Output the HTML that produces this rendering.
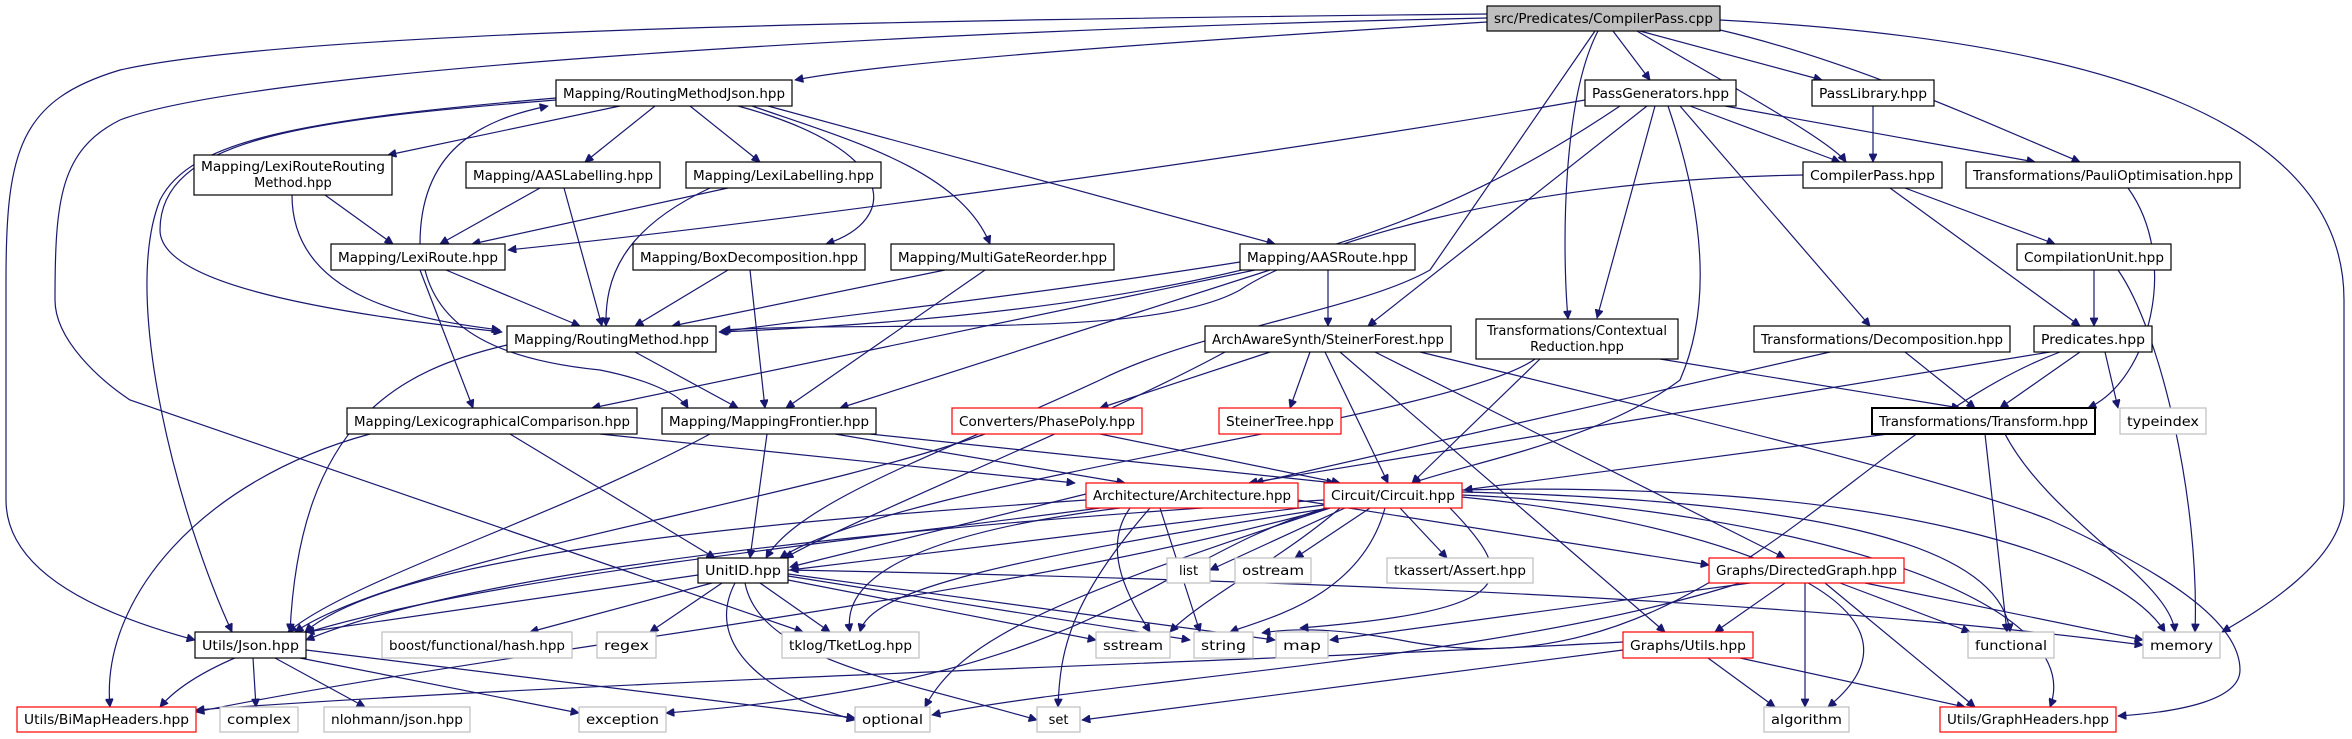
<!DOCTYPE html>
<html><head><meta charset="utf-8"><style>
html,body{margin:0;padding:0;background:#fff;}
svg{display:block;}
text{font-family:"DejaVu Sans","Liberation Sans",sans-serif;font-size:13px;fill:#000;}
.e{fill:none;stroke:#191970;stroke-width:1.2;marker-end:url(#a);}
.b{fill:#fff;stroke:#000;stroke-width:1.2;}
.r{fill:#fff;stroke:#f00;stroke-width:1.2;}
.g{fill:#fff;stroke:#bfbfbf;stroke-width:1.2;}
</style></head><body>
<svg width="2352" height="739" viewBox="0 0 2352 739" xmlns="http://www.w3.org/2000/svg">
<defs><marker id="a" viewBox="0 0 10 10" refX="10" refY="5" markerWidth="10" markerHeight="8" markerUnits="userSpaceOnUse" orient="auto"><path d="M0,0 L10,5 L0,10 z" fill="#191970" stroke="#191970"/></marker></defs>
<g>
<path class="e" d="M1487,22 C1200,40 900,60 795,80"/>
<path class="e" d="M1487,14 C900,20 300,30 120,70 C20,100 6,150 6,280 L6,500 C6,580 120,620 195,640"/>
<path class="e" d="M1487,18 C900,30 250,70 120,120 C60,150 55,200 55,300 C55,340 100,380 130,400 L803,632"/>
<path class="e" d="M1720,20 C2100,40 2344,120 2344,300 L2344,500 C2344,560 2260,610 2222,632"/>
<path class="e" d="M1613,31 L1650,80"/>
<path class="e" d="M1640,31 L1822,80"/>
<path class="e" d="M1637,31 C1720,80 1830,140 1846,162"/>
<path class="e" d="M1720,30 C1850,60 1980,120 2080,162"/>
<path class="e" d="M1598,31 C1562,100 1562,250 1568,319"/>
<path class="e" d="M1595,31 L1430,270 C1360,310 1200,330 1100,380 C950,450 800,500 766,558"/>
<path class="e" d="M1585,100 C1300,150 800,220 508,250"/>
<path class="e" d="M1620,106 C1450,220 1250,310 719,332"/>
<path class="e" d="M1647,106 L1368,326"/>
<path class="e" d="M1655,106 L1597,318"/>
<path class="e" d="M1668,106 C1700,200 1715,300 1680,380 C1600,440 1480,460 1412,483"/>
<path class="e" d="M1680,106 L1870,326"/>
<path class="e" d="M1690,106 L1840,162"/>
<path class="e" d="M1725,106 L2035,162"/>
<path class="e" d="M1873,106 L1873,162"/>
<path class="e" d="M1803,175 C1500,180 1300,250 1240,290 C1150,340 900,320 722,330"/>
<path class="e" d="M1905,188 L2055,244"/>
<path class="e" d="M1890,188 L2080,326"/>
<path class="e" d="M2128,188 C2180,260 2150,380 2088,408"/>
<path class="e" d="M2094,270 L2094,326"/>
<path class="e" d="M2118,270 C2160,330 2200,500 2195,632"/>
<path class="e" d="M2105,352 L2118,408"/>
<path class="e" d="M2080,352 L2000,408"/>
<path class="e" d="M2050,352 L1249,483"/>
<path class="e" d="M2060,352 C1850,430 1700,700 1400,640 C1320,625 1280,630 1262,633"/>
<path class="e" d="M1888,434 L1464,490"/>
<path class="e" d="M1985,434 L2007,632"/>
<path class="e" d="M2005,434 C2050,520 2170,580 2175,632"/>
<path class="e" d="M1905,352 L1975,408"/>
<path class="e" d="M1830,352 L1255,483"/>
<path class="e" d="M1660,359 L1960,408"/>
<path class="e" d="M1540,359 L1412,483"/>
<path class="e" d="M1535,359 C1450,420 900,480 780,558"/>
<path class="e" d="M1270,352 L1100,408"/>
<path class="e" d="M1310,352 L1290,408"/>
<path class="e" d="M1325,352 L1388,483"/>
<path class="e" d="M1225,352 C1100,420 850,520 785,558"/>
<path class="e" d="M1340,352 L1665,632"/>
<path class="e" d="M1375,352 L1785,558"/>
<path class="e" d="M1420,352 C1700,420 1950,480 2050,520 C2160,570 2240,620 2240,670 C2240,700 2180,712 2118,716"/>
<path class="e" d="M1328,270 L1328,326"/>
<path class="e" d="M1240,262 C1000,300 800,320 720,332"/>
<path class="e" d="M1270,270 L840,408"/>
<path class="e" d="M1255,270 L592,408"/>
<path class="e" d="M620,106 L388,155"/>
<path class="e" d="M655,106 L585,162"/>
<path class="e" d="M690,106 L760,162"/>
<path class="e" d="M738,106 C900,150 900,220 826,244"/>
<path class="e" d="M752,106 C850,140 960,170 990,244"/>
<path class="e" d="M768,106 L1275,244"/>
<path class="e" d="M556,100 C300,120 160,140 160,230 C160,280 300,310 502,332"/>
<path class="e" d="M556,98 C300,120 190,140 160,200 C120,300 180,520 232,632"/>
<path class="e" d="M420,244 C420,150 480,120 548,106"/>
<path class="e" d="M325,195 L393,244"/>
<path class="e" d="M292,195 C292,300 420,320 500,330"/>
<path class="e" d="M540,188 L440,244"/>
<path class="e" d="M564,188 L602,326"/>
<path class="e" d="M728,188 L472,244"/>
<path class="e" d="M710,188 C620,230 605,280 606,326"/>
<path class="e" d="M446,270 L580,326"/>
<path class="e" d="M420,270 L473,408"/>
<path class="e" d="M425,270 C440,330 500,360 600,370 C650,380 680,395 688,408"/>
<path class="e" d="M728,270 L635,326"/>
<path class="e" d="M750,270 L765,408"/>
<path class="e" d="M945,270 L672,326"/>
<path class="e" d="M985,270 L786,408"/>
<path class="e" d="M507,345 C400,370 300,420 290,632"/>
<path class="e" d="M635,352 L738,408"/>
<path class="e" d="M510,434 L715,558"/>
<path class="e" d="M370,434 C200,480 100,600 110,707"/>
<path class="e" d="M600,434 L1075,483"/>
<path class="e" d="M767,434 L750,558"/>
<path class="e" d="M835,434 L1125,483"/>
<path class="e" d="M870,434 L1335,483"/>
<path class="e" d="M710,434 C550,520 350,580 288,632"/>
<path class="e" d="M985,434 C800,500 400,560 295,632"/>
<path class="e" d="M1100,434 L1340,483"/>
<path class="e" d="M1086,494 L790,567"/>
<path class="e" d="M1086,500 C800,520 400,550 305,632"/>
<path class="e" d="M1100,508 C700,560 250,600 160,707"/>
<path class="e" d="M1120,508 C860,540 845,600 850,632"/>
<path class="e" d="M1160,508 L1200,632"/>
<path class="e" d="M1150,508 C1070,600 1060,650 1058,707"/>
<path class="e" d="M1130,508 C1100,550 1130,600 1150,632"/>
<path class="e" d="M1298,500 L1709,565"/>
<path class="e" d="M1324,505 L790,570"/>
<path class="e" d="M1324,500 C1000,520 500,560 306,640"/>
<path class="e" d="M1330,508 C1000,600 500,650 196,712"/>
<path class="e" d="M1330,508 C1000,560 870,590 860,632"/>
<path class="e" d="M1345,508 L1210,570"/>
<path class="e" d="M1370,508 L1295,558"/>
<path class="e" d="M1400,508 L1447,558"/>
<path class="e" d="M1385,508 C1360,600 1260,620 1230,632"/>
<path class="e" d="M1450,508 C1520,580 1520,610 1300,628"/>
<path class="e" d="M1340,508 C1280,560 1200,600 1170,632"/>
<path class="e" d="M1330,508 C1050,600 960,640 925,707"/>
<path class="e" d="M1326,508 C1150,560 1100,680 666,713"/>
<path class="e" d="M1462,497 C1700,520 1960,600 1828,707"/>
<path class="e" d="M1462,492 C1800,500 2000,540 2010,632"/>
<path class="e" d="M1462,490 C1900,480 2120,560 2165,632"/>
<path class="e" d="M1462,495 C1800,510 2090,600 2050,707"/>
<path class="e" d="M698,575 L306,632"/>
<path class="e" d="M712,583 L530,632"/>
<path class="e" d="M722,583 L650,632"/>
<path class="e" d="M760,583 L830,632"/>
<path class="e" d="M788,580 L1096,640"/>
<path class="e" d="M788,576 L1190,640"/>
<path class="e" d="M788,574 L1275,640"/>
<path class="e" d="M788,570 C1300,580 1800,600 2143,645"/>
<path class="e" d="M735,583 C700,650 780,700 855,720"/>
<path class="e" d="M745,583 C760,660 900,680 1037,720"/>
<path class="e" d="M253,658 L256,707"/>
<path class="e" d="M275,658 L365,707"/>
<path class="e" d="M300,658 L579,713"/>
<path class="e" d="M306,650 L855,718"/>
<path class="e" d="M1785,583 L1715,632"/>
<path class="e" d="M1805,583 L1805,707"/>
<path class="e" d="M1825,583 L1975,707"/>
<path class="e" d="M1840,583 L1970,632"/>
<path class="e" d="M1865,583 L2143,640"/>
<path class="e" d="M1750,583 L1330,640"/>
<path class="e" d="M1740,583 C1500,660 1100,680 932,715"/>
<path class="e" d="M1708,658 L1775,707"/>
<path class="e" d="M1740,658 L1965,707"/>
<path class="e" d="M1623,650 L1082,720"/>
<path class="e" d="M1623,642 C1300,660 600,680 196,710"/>
</g>
<g>
<rect x="1487" y="6" width="233" height="25" fill="#bfbfbf" stroke="#000" stroke-width="1.2"/><text x="1603.5" y="23" text-anchor="middle" textLength="219" lengthAdjust="spacingAndGlyphs">src/Predicates/CompilerPass.cpp</text>
<rect class="b" x="556" y="80" width="236" height="26"/><text x="674" y="98" text-anchor="middle" textLength="222" lengthAdjust="spacingAndGlyphs">Mapping/RoutingMethodJson.hpp</text>
<rect class="b" x="194" y="155" width="198" height="40"/><text x="293" y="171" text-anchor="middle" textLength="184" lengthAdjust="spacingAndGlyphs">Mapping/LexiRouteRouting</text><text x="293" y="187" text-anchor="middle">Method.hpp</text>
<rect class="b" x="466" y="162" width="194" height="26"/><text x="563" y="180" text-anchor="middle" textLength="180" lengthAdjust="spacingAndGlyphs">Mapping/AASLabelling.hpp</text>
<rect class="b" x="686" y="162" width="195" height="26"/><text x="783.5" y="180" text-anchor="middle" textLength="181" lengthAdjust="spacingAndGlyphs">Mapping/LexiLabelling.hpp</text>
<rect class="b" x="331" y="244" width="174" height="26"/><text x="418" y="262" text-anchor="middle" textLength="160" lengthAdjust="spacingAndGlyphs">Mapping/LexiRoute.hpp</text>
<rect class="b" x="633" y="244" width="232" height="26"/><text x="749" y="262" text-anchor="middle" textLength="218" lengthAdjust="spacingAndGlyphs">Mapping/BoxDecomposition.hpp</text>
<rect class="b" x="891" y="244" width="223" height="26"/><text x="1002.5" y="262" text-anchor="middle" textLength="209" lengthAdjust="spacingAndGlyphs">Mapping/MultiGateReorder.hpp</text>
<rect class="b" x="507" y="326" width="209" height="26"/><text x="611.5" y="344" text-anchor="middle" textLength="195" lengthAdjust="spacingAndGlyphs">Mapping/RoutingMethod.hpp</text>
<rect class="b" x="1585" y="80" width="151" height="26"/><text x="1660.5" y="98" text-anchor="middle" textLength="137" lengthAdjust="spacingAndGlyphs">PassGenerators.hpp</text>
<rect class="b" x="1812" y="80" width="122" height="26"/><text x="1873" y="98" text-anchor="middle" textLength="108" lengthAdjust="spacingAndGlyphs">PassLibrary.hpp</text>
<rect class="b" x="1803" y="162" width="139" height="26"/><text x="1872.5" y="180" text-anchor="middle" textLength="125" lengthAdjust="spacingAndGlyphs">CompilerPass.hpp</text>
<rect class="b" x="1966" y="162" width="274" height="26"/><text x="2103" y="180" text-anchor="middle" textLength="260" lengthAdjust="spacingAndGlyphs">Transformations/PauliOptimisation.hpp</text>
<rect class="b" x="1240" y="244" width="175" height="26"/><text x="1327.5" y="262" text-anchor="middle" textLength="161" lengthAdjust="spacingAndGlyphs">Mapping/AASRoute.hpp</text>
<rect class="b" x="2017" y="244" width="154" height="26"/><text x="2094" y="262" text-anchor="middle" textLength="140" lengthAdjust="spacingAndGlyphs">CompilationUnit.hpp</text>
<rect class="b" x="1205" y="326" width="246" height="26"/><text x="1328" y="344" text-anchor="middle" textLength="232" lengthAdjust="spacingAndGlyphs">ArchAwareSynth/SteinerForest.hpp</text>
<rect class="b" x="1476" y="319" width="202" height="40"/><text x="1577" y="335" text-anchor="middle" textLength="180" lengthAdjust="spacingAndGlyphs">Transformations/Contextual</text><text x="1577" y="351" text-anchor="middle">Reduction.hpp</text>
<rect class="b" x="1754" y="326" width="256" height="26"/><text x="1882" y="344" text-anchor="middle" textLength="242" lengthAdjust="spacingAndGlyphs">Transformations/Decomposition.hpp</text>
<rect class="b" x="2034" y="326" width="118" height="26"/><text x="2093" y="344" text-anchor="middle" textLength="104" lengthAdjust="spacingAndGlyphs">Predicates.hpp</text>
<rect class="b" x="347" y="408" width="290" height="26"/><text x="492" y="426" text-anchor="middle" textLength="276" lengthAdjust="spacingAndGlyphs">Mapping/LexicographicalComparison.hpp</text>
<rect class="b" x="662" y="408" width="214" height="26"/><text x="769" y="426" text-anchor="middle" textLength="200" lengthAdjust="spacingAndGlyphs">Mapping/MappingFrontier.hpp</text>
<rect class="r" x="952" y="408" width="190" height="26"/><text x="1047" y="426" text-anchor="middle" textLength="176" lengthAdjust="spacingAndGlyphs">Converters/PhasePoly.hpp</text>
<rect class="r" x="1219" y="408" width="122" height="26"/><text x="1280" y="426" text-anchor="middle" textLength="108" lengthAdjust="spacingAndGlyphs">SteinerTree.hpp</text>
<rect x="1872" y="408" width="223" height="26" fill="#fff" stroke="#000" stroke-width="2"/><text x="1983.5" y="426" text-anchor="middle" textLength="209" lengthAdjust="spacingAndGlyphs">Transformations/Transform.hpp</text>
<rect class="g" x="2120" y="408" width="86" height="26"/><text x="2163" y="426" text-anchor="middle" textLength="72" lengthAdjust="spacingAndGlyphs">typeindex</text>
<rect class="r" x="1086" y="483" width="212" height="25"/><text x="1192" y="500" text-anchor="middle" textLength="198" lengthAdjust="spacingAndGlyphs">Architecture/Architecture.hpp</text>
<rect class="r" x="1324" y="483" width="138" height="25"/><text x="1393" y="500" text-anchor="middle" textLength="124" lengthAdjust="spacingAndGlyphs">Circuit/Circuit.hpp</text>
<rect class="b" x="698" y="558" width="90" height="25"/><text x="743" y="575" text-anchor="middle" textLength="76" lengthAdjust="spacingAndGlyphs">UnitID.hpp</text>
<rect class="g" x="1167" y="558" width="43" height="25"/><text x="1188.5" y="575" text-anchor="middle">list</text>
<rect class="g" x="1235" y="558" width="76" height="25"/><text x="1273" y="575" text-anchor="middle" textLength="62" lengthAdjust="spacingAndGlyphs">ostream</text>
<rect class="g" x="1387" y="558" width="146" height="25"/><text x="1460" y="575" text-anchor="middle" textLength="132" lengthAdjust="spacingAndGlyphs">tkassert/Assert.hpp</text>
<rect class="r" x="1709" y="558" width="195" height="25"/><text x="1806.5" y="575" text-anchor="middle" textLength="181" lengthAdjust="spacingAndGlyphs">Graphs/DirectedGraph.hpp</text>
<rect class="b" x="195" y="632" width="111" height="26"/><text x="250.5" y="650" text-anchor="middle" textLength="97" lengthAdjust="spacingAndGlyphs">Utils/Json.hpp</text>
<rect class="g" x="382" y="632" width="190" height="26"/><text x="477" y="650" text-anchor="middle" textLength="176" lengthAdjust="spacingAndGlyphs">boost/functional/hash.hpp</text>
<rect class="g" x="597" y="632" width="59" height="26"/><text x="626.5" y="650" text-anchor="middle" textLength="45" lengthAdjust="spacingAndGlyphs">regex</text>
<rect class="g" x="782" y="632" width="137" height="26"/><text x="850.5" y="650" text-anchor="middle" textLength="123" lengthAdjust="spacingAndGlyphs">tklog/TketLog.hpp</text>
<rect class="g" x="1096" y="632" width="74" height="26"/><text x="1133" y="650" text-anchor="middle" textLength="60" lengthAdjust="spacingAndGlyphs">sstream</text>
<rect class="g" x="1194" y="632" width="59" height="26"/><text x="1223.5" y="650" text-anchor="middle" textLength="45" lengthAdjust="spacingAndGlyphs">string</text>
<rect class="g" x="1276" y="632" width="52" height="26"/><text x="1302" y="650" text-anchor="middle" textLength="38" lengthAdjust="spacingAndGlyphs">map</text>
<rect class="r" x="1623" y="632" width="130" height="26"/><text x="1688" y="650" text-anchor="middle" textLength="116" lengthAdjust="spacingAndGlyphs">Graphs/Utils.hpp</text>
<rect class="g" x="1968" y="632" width="86" height="26"/><text x="2011" y="650" text-anchor="middle" textLength="72" lengthAdjust="spacingAndGlyphs">functional</text>
<rect class="g" x="2143" y="632" width="77" height="26"/><text x="2181.5" y="650" text-anchor="middle" textLength="63" lengthAdjust="spacingAndGlyphs">memory</text>
<rect class="r" x="17" y="707" width="179" height="25"/><text x="106.5" y="724" text-anchor="middle" textLength="165" lengthAdjust="spacingAndGlyphs">Utils/BiMapHeaders.hpp</text>
<rect class="g" x="220" y="707" width="78" height="25"/><text x="259" y="724" text-anchor="middle" textLength="64" lengthAdjust="spacingAndGlyphs">complex</text>
<rect class="g" x="324" y="707" width="146" height="25"/><text x="397" y="724" text-anchor="middle" textLength="132" lengthAdjust="spacingAndGlyphs">nlohmann/json.hpp</text>
<rect class="g" x="579" y="707" width="87" height="25"/><text x="622.5" y="724" text-anchor="middle" textLength="73" lengthAdjust="spacingAndGlyphs">exception</text>
<rect class="g" x="855" y="707" width="75" height="25"/><text x="892.5" y="724" text-anchor="middle" textLength="61" lengthAdjust="spacingAndGlyphs">optional</text>
<rect class="g" x="1037" y="707" width="43" height="25"/><text x="1058.5" y="724" text-anchor="middle">set</text>
<rect class="g" x="1764" y="707" width="85" height="25"/><text x="1806.5" y="724" text-anchor="middle" textLength="71" lengthAdjust="spacingAndGlyphs">algorithm</text>
<rect class="r" x="1940" y="707" width="176" height="25"/><text x="2028" y="724" text-anchor="middle" textLength="162" lengthAdjust="spacingAndGlyphs">Utils/GraphHeaders.hpp</text>
</g>
</svg>
</body></html>
